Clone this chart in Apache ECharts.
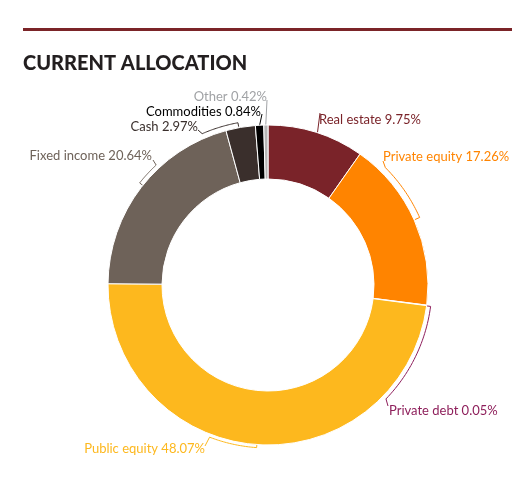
<!DOCTYPE html>
<html>
<head>
<meta charset="utf-8">
<script src="https://cdn.jsdelivr.net/npm/echarts@6/dist/echarts.min.js"></script>
<style>
  html, body { margin: 0; padding: 0; background: #fff; }
  #main { width: 527px; height: 495px; }
</style>
</head>
<body>
<div id="main"></div>
<script>
var categories = ['Real estate', 'Private equity', 'Private debt', 'Public equity', 'Fixed income', 'Cash', 'Commodities', 'Other'];
var values = [9.75, 17.26, 0.05, 48.07, 20.64, 2.97, 0.84, 0.42];
var sliceColors = ['#7a2329', '#ff8400', '#8e1f5b', '#fdb81e', '#6e6259', '#3a2f2c', '#000000', '#b5b5b5'];
var labelColors = ['#7a2329', '#ff8400', '#8e1f5b', '#fdb81e', '#6e6259', '#3a2f2c', '#000000', '#a0a2a5'];

var cx = 268, cy = 285;

function P(a, r) {
    var t = a * Math.PI / 180;
    return [cx + r * Math.cos(t), cy - r * Math.sin(t)];
}
function arc(a1, a2, r) {
    var pts = [];
    var n = 30;
    for (var i = 0; i <= n; i++) {
        pts.push(P(a1 + (a2 - a1) * i / n, r));
    }
    return pts;
}

// label anchors and the bracket-style guide lines
var labelPlaces = [
    { x: 319, y: 120, align: 'left', line: [[320, 113], P(72, 160)] },
    { x: 383, y: 157, align: 'left', line: [[383, 161]].concat(arc(45, 24, 166), [P(24, 161)]) },
    { x: 389, y: 411, align: 'left', line: [P(-7.5, 160)].concat(arc(-7.5, -44, 164), [[388, 406]]) },
    { x: 205, y: 449, align: 'right', line: [[205, 446]].concat(arc(-111, -94, 163), [P(-94, 159)]) },
    { x: 152, y: 156, align: 'right', line: [[153, 160]].concat(arc(133, 141.5, 164), [P(141.5, 160)]) },
    { x: 198, y: 127, align: 'right', line: [[198, 130]].concat(arc(113.5, 100.5, 165), [P(100.5, 161)]) },
    { x: 261, y: 112, align: 'right', line: [[262, 114], P(93, 160)] },
    { x: 267, y: 97, align: 'right', line: [[267, 100], P(90.8, 160)] }
];

var pieData = [];
for (var i = 0; i < categories.length; i++) {
    pieData.push({
        name: categories[i],
        value: values[i],
        itemStyle: { color: sliceColors[i] },
        label: { color: labelColors[i] },
        labelLine: { lineStyle: { color: labelColors[i], width: 1 } }
    });
}

var myChart = echarts.init(document.getElementById('main'));
var option = {
    animation: false,
    title: {
        text: 'CURRENT ALLOCATION',
        left: 18,
        top: 49,
        textStyle: {
            fontFamily: 'Lato',
            fontWeight: 900,
            fontSize: 20,
            color: '#231f20'
        }
    },
    graphic: [
        {
            type: 'rect',
            shape: { x: 23, y: 28, width: 489, height: 3 },
            style: { fill: '#7b2428' }
        }
    ],
    series: [
        {
            type: 'pie',
            center: [cx, cy],
            radius: [106, 160],
            startAngle: 90,
            clockwise: true,
            avoidLabelOverlap: false,
            silent: true,
            itemStyle: { borderColor: '#fff', borderWidth: 1 },
            label: {
                show: true,
                position: 'outside',
                formatter: '{b} {c}%',
                fontFamily: 'Lato',
                fontSize: 13
            },
            labelLine: { show: true, smooth: false },
            labelLayout: function (params) {
                var p = labelPlaces[params.dataIndex];
                return {
                    x: p.x,
                    y: p.y,
                    align: p.align,
                    verticalAlign: 'middle',
                    labelLinePoints: p.line
                };
            },
            data: pieData
        }
    ]
};
myChart.setOption(option);
</script>
</body>
</html>
